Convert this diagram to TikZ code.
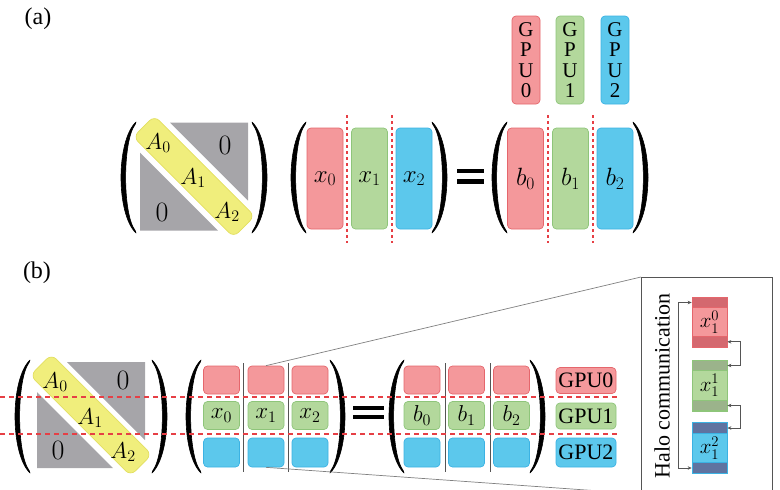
\documentclass[tikz,border=0pt]{standalone}
\usepackage{fix-cm}
\usepackage{fontspec}
\setmainfont{Liberation Serif}
\usetikzlibrary{arrows.meta}
\definecolor{redF}{HTML}{F4989B}
\definecolor{redD}{HTML}{E5666C}
\definecolor{redS}{HTML}{D4686F}
\definecolor{greenF}{HTML}{B3D89C}
\definecolor{greenD}{HTML}{8EC57A}
\definecolor{greenS}{HTML}{9BB38B}
\definecolor{blueF}{HTML}{5CC8EC}
\definecolor{blueD}{HTML}{3BB2E3}
\definecolor{blueS}{HTML}{5F73A0}
\definecolor{yellowF}{HTML}{F0EE7C}
\definecolor{yellowD}{HTML}{E2DF60}
\definecolor{grayM}{HTML}{A6A5A9}
\definecolor{dashR}{HTML}{E63F45}
\definecolor{lineG}{HTML}{555555}
\newcommand\myfs[1]{\fontsize{#1}{#1}\selectfont}
\newcommand\myLP[3]{\filldraw[black,line width=0.6,line join=round] ({#1+15},#2) .. controls ({#1-5},{#2+0.17*(#3-#2)}) and ({#1-5},{#3-0.17*(#3-#2)}) .. ({#1+15},#3) -- ({#1+14.3},{#3-2.2}) .. controls ({#1+1.4},{#3-0.17*(#3-#2)}) and ({#1+1.4},{#2+0.17*(#3-#2)}) .. ({#1+14.3},{#2+2.2}) -- cycle;}
\newcommand\myRP[3]{\filldraw[black,line width=0.6,line join=round] ({#1-15},#2) .. controls ({#1+5},{#2+0.17*(#3-#2)}) and ({#1+5},{#3-0.17*(#3-#2)}) .. ({#1-15},#3) -- ({#1-14.3},{#3-2.2}) .. controls ({#1-1.4},{#3-0.17*(#3-#2)}) and ({#1-1.4},{#2+0.17*(#3-#2)}) .. ({#1-14.3},{#2+2.2}) -- cycle;}
\begin{document}
\begin{tikzpicture}[x=1pt,y=-1pt,
  box/.style={rounded corners=4, inner sep=0, line width=0.7, minimum width=36, font=\myfs{25}},
  sbox/.style={rounded corners=4, inner sep=0, line width=0.7, minimum width=36, font=\myfs{23}},
  rbox/.style={box, fill=redF, draw=redD},
  gbox/.style={box, fill=greenF, draw=greenD},
  bbox/.style={box, fill=blueF, draw=blueD},
  rsbox/.style={sbox, fill=redF, draw=redD},
  gsbox/.style={sbox, fill=greenF, draw=greenD},
  bsbox/.style={sbox, fill=blueF, draw=blueD},
  yband/.style={fill=yellowF, draw=yellowD, line width=0.7, rounded corners=7, minimum width=142, minimum height=30, inner sep=0},
  mlab/.style={inner sep=0, font=\myfs{23}},
  zlab/.style={inner sep=0, font=\myfs{28}},
  rdash/.style={draw=dashR, line width=1.5, dash pattern=on 5pt off 4pt},
  rdashv/.style={draw=dashR, line width=1.2, dash pattern=on 3pt off 3pt},
  sep/.style={draw=lineG, line width=0.9},
  zoomline/.style={draw=gray, line width=0.7},
  hbox/.style={inner sep=0, line width=0.7, minimum width=35, font=\myfs{21}},
  hstrip/.style={inner sep=0, line width=0.7, minimum width=35, minimum height=10.5},
  harrow/.style={<->, >={Stealth[length=4pt,width=3.5pt]}, draw=lineG, line width=0.8},
  glab/.style={rounded corners=4, inner sep=0, line width=0.7, minimum width=60, font=\myfs{22}},
  gstack/.style={rounded corners=4, inner sep=0, line width=0.7, minimum width=28, minimum height=88, align=center, font=\fontsize{21}{20.5}\selectfont}
]
\useasboundingbox (0,0) rectangle (780,490);

% ---------------- (a) ----------------
\node[font=\myfs{24}] (la) at (38,19) {(a)};

\begin{scope}[shift={(194,176.5)}]
  \fill[grayM] (-24,-54) -- (54,-54) -- (54,24) -- cycle;
  \fill[grayM] (-54,-24) -- (-54,54) -- (24,54) -- cycle;
  \node[yband, rotate=-45] (aband) at (0,0) {};
  \node[mlab] (aA0) at (-36,-33.5) {$A_0$};
  \node[mlab] (aA1) at (-1,1.5) {$A_1$};
  \node[mlab] (aA2) at (33,35.5) {$A_2$};
  \node[zlab] (az1) at (31,-31.5) {$0$};
  \node[zlab] (az2) at (-32,35.5) {$0$};
\end{scope}
\myLP{121}{122}{233}
\myRP{267}{122}{233}

\myLP{291}{122}{233}
\myRP{447}{122}{233}
\node[rbox, minimum height=101] (ax0) at (325,178.5) {$x_0$};
\node[gbox, minimum height=101] (ax1) at (369.5,178.5) {$x_1$};
\node[bbox, minimum height=101] (ax2) at (414,178.5) {$x_2$};
\draw[rdashv] (347,115) -- (347,243);
\draw[rdashv] (392,115) -- (392,243);

\fill[black] (457,168.5) rectangle (484,173);
\fill[black] (457,179) rectangle (484,183.5);

\myLP{492}{122}{233}
\myRP{648}{122}{233}
\node[rbox, minimum height=101] (ab0) at (525.5,178.5) {$b_0$};
\node[gbox, minimum height=101] (ab1) at (570.5,178.5) {$b_1$};
\node[bbox, minimum height=101] (ab2) at (615,178.5) {$b_2$};
\draw[rdashv] (548,115) -- (548,243);
\draw[rdashv] (593,115) -- (593,243);

\node[gstack, fill=redF, draw=redD] (ag0) at (526,60) {G\\P\\U\\0};
\node[gstack, fill=greenF, draw=greenD] (ag1) at (570,60) {G\\P\\U\\1};
\node[gstack, fill=blueF, draw=blueD] (ag2) at (615,60) {G\\P\\U\\2};

% ---------------- (b) ----------------
\node[font=\myfs{24}] (lb) at (37,273) {(b)};

\begin{scope}[shift={(91,415)}]
  \fill[grayM] (-24,-53) -- (54,-53) -- (54,25) -- cycle;
  \fill[grayM] (-54,-23) -- (-54,53) -- (22,53) -- cycle;
  \node[yband, rotate=-45] (bband) at (0,0) {};
  \node[mlab] (bA0) at (-36,-33) {$A_0$};
  \node[mlab] (bA1) at (-1,3) {$A_1$};
  \node[mlab] (bA2) at (32,37) {$A_2$};
  \node[zlab] (bz1) at (32,-35) {$0$};
  \node[zlab] (bz2) at (-33,35) {$0$};
\end{scope}
\myLP{15}{360}{473}
\myRP{167}{360}{473}

\myLP{186}{360}{473}
\myRP{345}{360}{473}
\node[rsbox, minimum height=28] (bx0r) at (221.5,380) {};
\node[rsbox, minimum height=28] (bx1r) at (266,380) {};
\node[rsbox, minimum height=28] (bx2r) at (310,380) {};
\node[gsbox, minimum height=28] (bx0) at (221.5,415.5) {$x_0$};
\node[gsbox, minimum height=28] (bx1) at (266,415.5) {$x_1$};
\node[gsbox, minimum height=28] (bx2) at (310,415.5) {$x_2$};
\node[bsbox, minimum height=29] (bx0b) at (221.5,452.5) {};
\node[bsbox, minimum height=29] (bx1b) at (266,452.5) {};
\node[bsbox, minimum height=29] (bx2b) at (310,452.5) {};
\draw[sep] (243.7,363) -- (243.7,472);
\draw[sep] (288,363) -- (288,472);

\fill[black] (353,405.5) rectangle (384,410);
\fill[black] (353,414.5) rectangle (384,419);

\myLP{389}{360}{473}
\myRP{545}{360}{473}
\node[rsbox, minimum height=28] (bb0r) at (422,380) {};
\node[rsbox, minimum height=28] (bb1r) at (466.5,380) {};
\node[rsbox, minimum height=28] (bb2r) at (511.5,380) {};
\node[gsbox, minimum height=28] (bb0) at (422,415.5) {$b_0$};
\node[gsbox, minimum height=28] (bb1) at (466.5,415.5) {$b_1$};
\node[gsbox, minimum height=28] (bb2) at (511.5,415.5) {$b_2$};
\node[bsbox, minimum height=29] (bb0b) at (422,452.5) {};
\node[bsbox, minimum height=29] (bb1b) at (466.5,452.5) {};
\node[bsbox, minimum height=29] (bb2b) at (511.5,452.5) {};
\draw[sep] (445,363) -- (445,472);
\draw[sep] (490,363) -- (490,472);

\node[glab, fill=redF, draw=redD, minimum height=26] (G0) at (586,380.5) {GPU0};
\node[glab, fill=greenF, draw=greenD, minimum height=26] (G1) at (586,416) {GPU1};
\node[glab, fill=blueF, draw=blueD, minimum height=29] (G2) at (586,452.5) {GPU2};

\draw[rdash] (0,397) -- (617,397);
\draw[rdash] (0,434) -- (617,434);

% zoom panel
\node[draw=lineG, line width=0.9, minimum width=131, minimum height=216, inner sep=0, anchor=north west] (panel) at (641,277) {};
\draw[zoomline] (bx1r.north) -- (panel.north west);
\draw[zoomline] (bx1b.south) -- (panel.south west);

\node[rotate=90, font=\myfs{22}, inner sep=0] (halo) at (662,386) {Halo communication};

\node[hbox, fill=redF, draw=redD, minimum height=50] (h0) at (709.5,322) {$x_1^0$};
\node[hstrip, fill=redS, draw=redD] (h0t) at (709.5,302.5) {};
\node[hstrip, fill=redS, draw=redD] (h0b) at (709.5,341.8) {};

\node[hbox, fill=greenF, draw=greenD, minimum height=51] (h1) at (709.5,385.5) {$x_1^1$};
\node[hstrip, fill=greenS, draw=greenD] (h1t) at (709.5,365.5) {};
\node[hstrip, fill=greenS, draw=greenD] (h1b) at (709.5,405.5) {};

\node[hbox, fill=blueF, draw=blueD, minimum height=50] (h2) at (709.5,448) {$x_1^2$};
\node[hstrip, fill=blueS, draw=blueD] (h2t) at (709.5,428) {};
\node[hstrip, fill=blueS, draw=blueD] (h2b) at (709.5,468) {};

\draw[harrow] (h0t.west) -- ++(-13,0) |- (h2b.west);
\draw[harrow] (h0b.east) -- ++(13,0) |- (h1t.east);
\draw[harrow] (h1b.east) -- ++(13,0) |- (h2t.east);
\end{tikzpicture}
\end{document}
